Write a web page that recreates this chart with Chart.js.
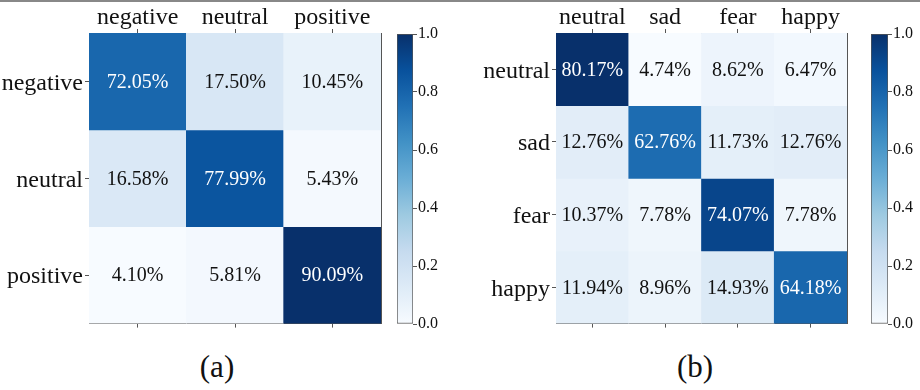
<!DOCTYPE html>
<html>
<head>
<meta charset="utf-8">
<script src="https://cdn.jsdelivr.net/npm/chart.js@4.4.0/dist/chart.umd.min.js"></script>
<style>
html, body { margin: 0; padding: 0; background: #fff; }
#page { position: relative; width: 920px; height: 390px; overflow: hidden; }
#topline { position: absolute; left: 0; top: 0; width: 920px; height: 2px; background: #888; }
canvas { position: absolute; top: 0; }
.cap { position: absolute; top: 351px; width: 80px; margin-left: -40px; text-align: center;
       font-family: 'Liberation Serif', 'Times New Roman', serif; font-size: 31px; line-height: 31px; color: #111; }
</style>
</head>
<body>
<div id="page">
  <div id="topline"></div>
  <canvas id="heatA" width="392" height="340" style="left:0px"></canvas>
  <canvas id="barA" width="60" height="340" style="left:390px"></canvas>
  <canvas id="heatB" width="400" height="340" style="left:460px"></canvas>
  <canvas id="barB" width="58" height="340" style="left:862px"></canvas>
  <div class="cap" style="left:217px">(a)</div>
  <div class="cap" style="left:695px">(b)</div>
</div>
<script>
// data
const labelsA = ['negative', 'neutral', 'positive'];
const rowsA = [
    [72.05, 17.50, 10.45],
    [16.58, 77.99, 5.43],
    [4.10, 5.81, 90.09]
];
const labelsB = ['neutral', 'sad', 'fear', 'happy'];
const rowsB = [
    [80.17, 4.74, 8.62, 6.47],
    [12.76, 62.76, 11.73, 12.76],
    [10.37, 7.78, 74.07, 7.78],
    [11.94, 8.96, 14.93, 64.18]
];
const colorbarTicks = [0, 0.2, 0.4, 0.6, 0.8, 1.0];

const FONT = "'Liberation Serif', 'Times New Roman', serif";
const AXIS = '#555';
const TEXT = '#111';

// matplotlib "Blues"
const BLUES = ['#f7fbff', '#deebf7', '#c6dbef', '#9ecae1', '#6baed6',
               '#4292c6', '#2171b5', '#08519c', '#08306b'];

function hexToRgb(h) {
    return [1, 3, 5].map(i => parseInt(h.substr(i, 2), 16));
}

function blues(t) {
    t = Math.max(0, Math.min(1, t));
    const pos = t * (BLUES.length - 1);
    const i = Math.min(Math.floor(pos), BLUES.length - 2);
    const f = pos - i;
    const a = hexToRgb(BLUES[i]);
    const b = hexToRgb(BLUES[i + 1]);
    const c = a.map((v, k) => Math.round(v + (b[k] - v) * f));
    return 'rgb(' + c.join(',') + ')';
}

Chart.defaults.font.family = FONT;
Chart.defaults.animation = false;

// tulis persentase di tengah tiap sel
const cellText = {
    id: 'cellText',
    afterDatasetsDraw(chart, args, opts) {
        const ctx = chart.ctx;
        ctx.save();
        ctx.font = '20px ' + FONT;
        ctx.textAlign = 'center';
        ctx.textBaseline = 'middle';
        opts.rows.forEach((row, r) => {
            chart.getDatasetMeta(r).data.forEach((bar, c) => {
                const p = bar.getCenterPoint();
                ctx.fillStyle = row[c] > 50 ? '#fff' : TEXT;
                ctx.fillText(row[c].toFixed(2) + '%', p.x, p.y + 1);
            });
        });
        ctx.restore();
    }
};

function heatmap(id, labels, rows, box) {
    const n = labels.length;
    // warna dinormalisasi dari nilai terkecil s/d terbesar (seperti imshow)
    const all = rows.flat();
    const lo = Math.min(...all);
    const hi = Math.max(...all);
    new Chart(document.getElementById(id), {
        type: 'bar',
        data: {
            labels: labels,
            datasets: rows.map((row, r) => ({
                data: row.map(() => [r, r + 1]),
                backgroundColor: row.map(v => blues((v - lo) / (hi - lo))),
                borderWidth: 0,
                grouped: false,
                categoryPercentage: 1,
                barPercentage: 1
            }))
        },
        options: {
            responsive: false,
            devicePixelRatio: 1,
            layout: { padding: 0 },
            plugins: {
                legend: { display: false },
                tooltip: { enabled: false },
                cellText: { rows: rows }
            },
            scales: {
                x: {
                    position: 'top',
                    offset: true,
                    grid: { offset: false, drawOnChartArea: false, tickLength: 4, color: AXIS },
                    border: { color: AXIS },
                    ticks: { font: { size: 24 }, color: TEXT, padding: -3, maxRotation: 0 },
                    afterFit: s => { s.height = box.top; }
                },
                xb: {
                    type: 'category',
                    labels: labels,
                    position: 'bottom',
                    offset: true,
                    grid: { offset: false, drawOnChartArea: false, tickLength: 4, color: AXIS },
                    border: { color: AXIS },
                    ticks: { display: false },
                    afterFit: s => { s.height = box.bottom; }
                },
                y: {
                    min: 0,
                    max: n,
                    reverse: true,
                    grid: { drawOnChartArea: false, tickLength: 4, color: AXIS },
                    border: { color: AXIS },
                    ticks: {
                        font: { size: 24 }, color: TEXT, padding: 2, labelOffset: 2,
                        callback: v => labels[Math.floor(v)]
                    },
                    afterBuildTicks: s => { s.ticks = labels.map((_, i) => ({ value: i + 0.5 })); },
                    afterFit: s => { s.width = box.left; }
                },
                yr: {
                    type: 'linear',
                    position: 'right',
                    min: 0,
                    max: n,
                    grid: { display: false },
                    border: { color: AXIS },
                    ticks: { display: false },
                    afterFit: s => { s.width = box.right; }
                }
            }
        },
        plugins: [cellText]
    });
}

function colorbar(id, box) {
    new Chart(document.getElementById(id), {
        type: 'bar',
        data: {
            labels: [''],
            datasets: [{
                data: [[0, 1]],
                backgroundColor: c => {
                    const a = c.chart.chartArea;
                    if (!a) return BLUES[4];
                    const g = c.chart.ctx.createLinearGradient(0, a.bottom, 0, a.top);
                    BLUES.forEach((col, i) => g.addColorStop(i / (BLUES.length - 1), col));
                    return g;
                },
                borderColor: AXIS,
                borderWidth: 1,
                borderSkipped: false,
                categoryPercentage: 1,
                barPercentage: 1
            }]
        },
        options: {
            responsive: false,
            devicePixelRatio: 1,
            layout: { padding: { left: box.left, top: box.top, bottom: box.bottom, right: 0 } },
            plugins: { legend: { display: false }, tooltip: { enabled: false } },
            scales: {
                x: { display: false },
                y: {
                    position: 'right',
                    min: 0,
                    max: 1,
                    grid: { drawOnChartArea: false, tickLength: 4, color: AXIS },
                    border: { display: false },
                    ticks: { font: { size: 16 }, color: TEXT, padding: 1, callback: v => v.toFixed(1) },
                    afterBuildTicks: s => { s.ticks = colorbarTicks.map(v => ({ value: v })); },
                    afterFit: s => { s.width = box.axis; }
                }
            }
        }
    });
}

heatmap('heatA', labelsA, rowsA, { left: 89, top: 33, right: 11, bottom: 16 });
heatmap('heatB', labelsB, rowsB, { left: 96, top: 33, right: 13, bottom: 16 });
colorbar('barA', { left: 7, top: 34, bottom: 16, axis: 37 });
colorbar('barB', { left: 9, top: 34, bottom: 16, axis: 32 });
</script>
</body>
</html>
